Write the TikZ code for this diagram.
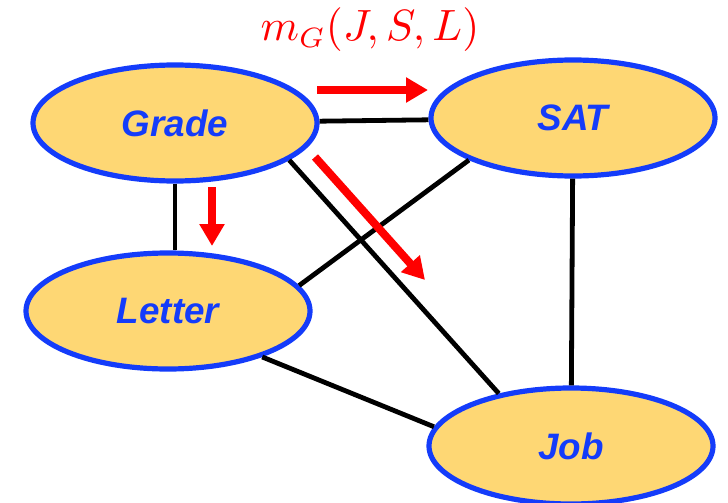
\documentclass[tikz,border=0pt]{standalone}
\usepackage{fontspec}
\setsansfont{Liberation Sans}
\usetikzlibrary{shapes.geometric, arrows.meta, positioning}
\definecolor{varblue}{RGB}{20, 60, 250}
\definecolor{varfill}{RGB}{254, 215, 116}
\definecolor{msgred}{RGB}{255, 0, 0}

\begin{document}
\begin{tikzpicture}[x=0.25pt, y=-0.25pt,
    var/.style={ellipse, draw=varblue, fill=varfill, line width=1.3pt, minimum width=71pt, minimum height=29pt, inner sep=0pt, text=varblue, font=\sffamily\bfseries\itshape\fontsize{9.2}{10}\selectfont},
    edge/.style={draw, line width=1.2pt},
    msg/.style={draw=msgred, line width=2pt, -{Triangle[length=5.5pt, width=6pt]}}]
    \useasboundingbox (0,0) rectangle (728,503);

    \node [var] (grade) at (175,123) {Grade};
    \node [var] (sat) at (573,118) {SAT};
    \node [var] (letter) at (168,311) {Letter};
    \node [var] (job) at (571,446) {Job};

    \path [edge] (grade) -- (sat);
    \path [edge] (grade.south) -- (grade.south |- letter.north);
    \path [edge] (grade.-18) -- (job.144);
    \path [edge] (sat.202) -- (letter.11);
    \path [edge] (sat) -- (job);
    \path [edge] (letter.-26) -- (job.172);

    % message from Grade
    \node [text=msgred, font=\fontsize{10.6}{12}\selectfont] (label) at (370,30) {$m_G(J,S,L)$};
    \coordinate (m1a) at (317,90);  \coordinate (m1b) at (428,90);
    \coordinate (m2a) at (212,187); \coordinate (m2b) at (212,246);
    \coordinate (m3a) at (315,157); \coordinate (m3b) at (425,280);
    \path [msg] (m1a) -- (m1b);
    \path [msg] (m2a) -- (m2b);
    \path [msg] (m3a) -- (m3b);
\end{tikzpicture}
\end{document}
